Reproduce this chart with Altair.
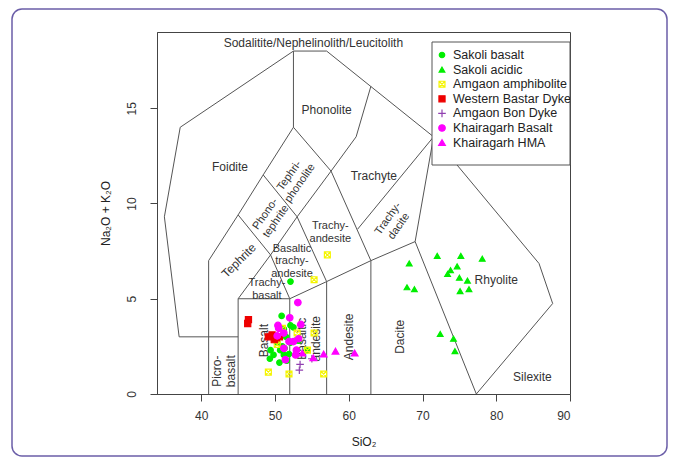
import altair as alt
import pandas as pd

# ---------------- data ----------------
series_names = ["Sakoli basalt", "Sakoli acidic", "Amgaon amphibolite",
                "Western Bastar Dyke", "Amgaon Bon Dyke", "Khairagarh Basalt",
                "Khairagarh HMA"]

sakoli_basalt_x = [52.1, 50.9, 52.1, 52.5, 51.2, 52.8, 52.1, 51.3, 50.7, 49.4, 49.8,
                   51.2, 51.9, 50.6, 49.3, 51.6, 53.2, 54.3, 50.3, 51.0, 51.5]
sakoli_basalt_y = [5.9, 4.1, 3.6, 3.5, 3.4, 2.8, 2.7, 2.4, 2.3, 2.3, 2.05,
                   2.05, 2.1, 1.65, 1.85, 1.75, 2.8, 2.3, 2.7, 2.5, 3.0]

sakoli_acidic_x = [68.2, 72.0, 75.2, 78.1, 73.8, 74.7, 73.4, 75.0, 76.1, 76.3, 75.1,
                   67.9, 68.9, 72.4, 74.2, 74.4]
sakoli_acidic_y = [6.85, 7.25, 7.25, 7.1, 6.5, 6.7, 6.3, 6.1, 5.95, 5.5, 5.4,
                   5.6, 5.5, 3.15, 2.9, 2.25]

amgaon_amph_x = [57.1, 55.3, 53.0, 55.3, 54.4, 49.1, 51.9, 56.6, 51.0, 50.3]
amgaon_amph_y = [7.3, 6.0, 3.2, 3.2, 2.3, 1.15, 1.05, 1.05, 3.45, 2.6]

bastar_x = [46.4, 46.3, 49.1, 49.6, 50.2, 50.6, 49.9]
bastar_y = [3.9, 3.7, 3.0, 3.1, 2.95, 3.0, 2.85]

bon_dyke_x = [53.4, 53.3, 55.0]
bon_dyke_y = [1.55, 1.25, 1.85]

khair_basalt_x = [53.1, 52.0, 50.4, 53.5, 51.2, 51.9, 51.2, 53.2, 52.9, 51.4, 50.5,
                  50.3, 52.5, 52.8]
khair_basalt_y = [4.8, 4.0, 3.6, 3.65, 3.2, 2.75, 2.4, 2.9, 2.3, 1.8, 3.45,
                  3.05, 2.75, 2.05]

khair_hma_x = [53.7, 55.2, 56.6, 58.2, 60.8]
khair_hma_y = [2.15, 1.9, 2.1, 2.25, 2.15]

# TAS field boundaries (SiO2, Na2O+K2O)
boundary_lines = [
    [(37, 3), (35, 9.3), (37.15, 14), (52.5, 18), (57, 18), (71.5, 13.5),
     (85.8, 6.85), (87.65, 4.75), (77.3, 0)],
    [(37, 3), (45, 3)],
    [(41, 0), (41, 7), (45, 9.4), (48.4, 11.5), (52.5, 14), (52.5, 18)],
    [(45, 0), (45, 5), (52, 5), (57, 5.9), (63, 7), (69, 8), (77.3, 0)],
    [(52, 0), (52, 5)],
    [(57, 0), (57, 5.9)],
    [(63, 0), (63, 7)],
    [(45, 5), (49.4, 7.3), (53, 9.3), (57.6, 11.7), (61, 13.5), (63, 16.15)],
    [(45, 9.4), (49.4, 7.3), (52, 5)],
    [(48.4, 11.5), (53, 9.3), (57, 5.9)],
    [(52.5, 14), (57.6, 11.7), (63, 7)],
    [(61.2, 8.65), (71.5, 13.5)],
    [(69, 8), (71.5, 13.5)],
]

# field names (position = first text line)
big_labels = ["Sodalitite/Nephelinolith/Leucitolith", "Phonolite", "Foidite",
              "Trachyte", "Rhyolite", "Silexite"]
big_x = [55.2, 57.0, 43.9, 63.4, 80.0, 84.9]
big_y = [18.4, 14.9, 11.9, 11.45, 6.0, 0.9]

small_labels = ["Trachy-\nandesite", "Basaltic\ntrachy-\nandesite", "Trachy-\nbasalt"]
small_x = [57.5, 52.3, 48.9]
small_y = [8.8, 7.62, 5.82]

vert_labels = ["Dacite", "Andesite", "Basaltic\nandesite", "Basalt", "Picro-\nbasalt"]
vert_x = [67.0, 60.0, 53.7, 48.5, 42.15]
vert_y = [3.0, 3.0, 2.9, 2.8, 1.2]

slant_labels = ["Tephri-\nphonolite", "Phono-\ntephrite", "Trachy-\ndacite"]
slant_x = [51.95, 48.7, 65.35]
slant_y = [11.45, 9.45, 9.2]

teph_labels = ["Tephrite"]
teph_x = [45.1]
teph_y = [7.0]

# ---------------- tables ----------------
groups = [
    (sakoli_basalt_x, sakoli_basalt_y), (sakoli_acidic_x, sakoli_acidic_y),
    (amgaon_amph_x, amgaon_amph_y), (bastar_x, bastar_y),
    (bon_dyke_x, bon_dyke_y), (khair_basalt_x, khair_basalt_y),
    (khair_hma_x, khair_hma_y),
]
rows = []
for name, (xs_, ys_) in zip(series_names, groups):
    for a, b in zip(xs_, ys_):
        rows.append({"SiO2": a, "alk": b, "series": name})
pts = pd.DataFrame(rows)

lrows = []
for k, line in enumerate(boundary_lines):
    for i, (a, b) in enumerate(line):
        lrows.append({"SiO2": a, "alk": b, "seg": k, "i": i})
lines_df = pd.DataFrame(lrows)

legend_df = pd.DataFrame({"series": series_names, "row": list(range(len(series_names)))})


def lab_df(t, xs_, ys_):
    return pd.DataFrame({"label": t, "SiO2": xs_, "alk": ys_})


xs = alt.Scale(domain=[34, 90], nice=False, zero=False)
ys = alt.Scale(domain=[0, 19], nice=False, zero=False)
X = alt.X("SiO2:Q", scale=xs, title="SiO₂",
          axis=alt.Axis(values=[40, 50, 60, 70, 80, 90]))
Y = alt.Y("alk:Q", scale=ys, title="Na₂O + K₂O",
          axis=alt.Axis(values=[0, 5, 10, 15]))

frame = alt.Chart(alt.Data(values=[{}])).mark_rect(
    fill="transparent", stroke="#6b5ea8", strokeWidth=1.5, cornerRadius=10
).encode(x=alt.value(-145), x2=alt.value(510), y=alt.value(-23), y2=alt.value(424))

field_lines = alt.Chart(lines_df).mark_line(color="#555555", strokeWidth=1).encode(
    x=X, y=Y, detail="seg:N", order="i:Q")

TXT = "#333333"
t_big = alt.Chart(lab_df(big_labels, big_x, big_y)).mark_text(
    fontSize=12, color=TXT).encode(x="SiO2:Q", y="alk:Q", text="label:N")
t_small = alt.Chart(lab_df(small_labels, small_x, small_y)).mark_text(
    fontSize=11, color=TXT, lineBreak="\n", lineHeight=12.5).encode(
    x="SiO2:Q", y="alk:Q", text="label:N")
t_vert = alt.Chart(lab_df(vert_labels, vert_x, vert_y)).mark_text(
    fontSize=12, color=TXT, angle=270, lineBreak="\n", lineHeight=14).encode(
    x="SiO2:Q", y="alk:Q", text="label:N")
t_slant = alt.Chart(lab_df(slant_labels, slant_x, slant_y)).mark_text(
    fontSize=11, color=TXT, angle=305, lineBreak="\n", lineHeight=13).encode(
    x="SiO2:Q", y="alk:Q", text="label:N")
t_teph = alt.Chart(lab_df(teph_labels, teph_x, teph_y)).mark_text(
    fontSize=12, color=TXT, angle=315).encode(x="SiO2:Q", y="alk:Q", text="label:N")

GREEN, YELLOW, RED, PURPLE, MAGENTA = "#00ee00", "#f5f500", "#ee0000", "#9040b0", "#ff00ff"
sqx = "M-1,-1H1V1H-1Z M-1,-1L1,1 M1,-1L-1,1"
crs = "M-1.2,0H1.2 M0,-1.2V1.2"


def symbol_enc():
    return dict(
        shape=alt.Shape("series:N", scale=alt.Scale(
            domain=series_names,
            range=["circle", "triangle-up", sqx, "square", crs, "circle", "triangle-up"]),
            legend=None),
        fill=alt.Fill("series:N", scale=alt.Scale(
            domain=series_names,
            range=[GREEN, GREEN, "transparent", RED, "transparent", MAGENTA, MAGENTA]),
            legend=None),
        stroke=alt.Stroke("series:N", scale=alt.Scale(
            domain=series_names,
            range=[GREEN, GREEN, YELLOW, RED, PURPLE, MAGENTA, MAGENTA]),
            legend=None),
        size=alt.Size("series:N", scale=alt.Scale(
            domain=series_names, range=[30, 45, 55, 35, 90, 30, 45]), legend=None),
    )


points = alt.Chart(pts).mark_point(opacity=1, strokeWidth=1.2).encode(
    x=X, y=Y, **symbol_enc())

# hand-drawn legend box (top-right, inside the plot like the R legend)
leg_box = alt.Chart(alt.Data(values=[{}])).mark_rect(
    fill="white", stroke="#555555", strokeWidth=1
).encode(x=alt.value(275), x2=alt.value(413), y=alt.value(10), y2=alt.value(133))

LEG_Y = alt.Y("py:Q", scale=None, axis=None)
leg_sym = alt.Chart(legend_df).transform_calculate(
    py="23 + datum.row * 14.6"
).mark_point(opacity=1, strokeWidth=1.2).encode(
    x=alt.value(285), y=LEG_Y, **symbol_enc())
leg_txt = alt.Chart(legend_df).transform_calculate(
    py="23 + datum.row * 14.6"
).mark_text(align="left", baseline="middle", fontSize=12.5, color="#222222",
            clip=True).encode(x=alt.value(296), y=LEG_Y, text="series:N")

chart = alt.layer(frame, field_lines, t_big, t_small, t_vert, t_slant, t_teph, points,
                  leg_box, leg_sym, leg_txt).properties(
    width=413, height=362,
    autosize=alt.AutoSizeParams(type="none"),
    padding={"left": 157, "top": 32, "right": 108, "bottom": 65},
    background="white",
).configure(font="Liberation Sans").configure_view(
    stroke="#444444", strokeWidth=1
).configure_axis(
    grid=False, domainColor="#444444", tickColor="#444444", tickSize=7,
    labelColor="#333333", labelFontSize=12, titleFontSize=12, titleColor="#222222",
    titleFontWeight="normal", labelFont="Liberation Sans", titleFont="Liberation Sans",
).configure_axisX(
    labelPadding=9, titlePadding=15
).configure_axisY(
    labelAngle=270, labelAlign="center", labelBaseline="bottom", labelPadding=12,
    titlePadding=13
)

chart.save("out.html", embed_options={"renderer": "svg", "actions": False})
